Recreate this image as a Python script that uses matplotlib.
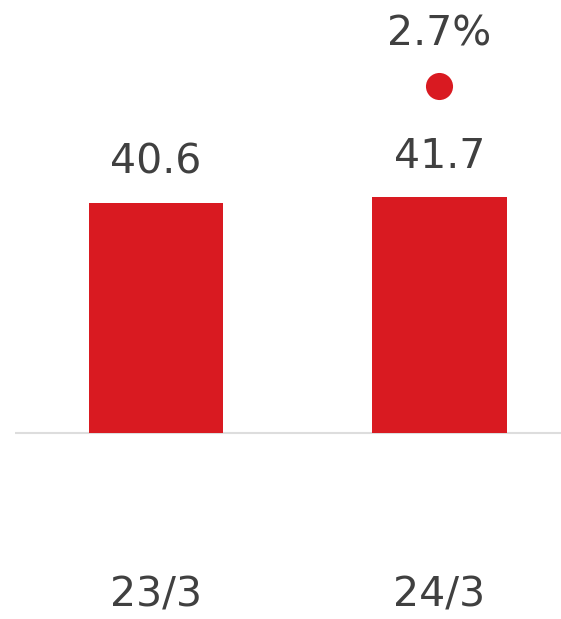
import matplotlib.pyplot as plt

# Data
periods = ["23/3", "24/3"]
values = [40.6, 41.7]
growth_pct = 2.7

bar_red = "#D91A21"
text_gray = "#404040"
px_per_unit = 5.665

fig = plt.figure(figsize=(5.61, 6.19), dpi=100)
ax = fig.add_axes([0, 0, 1, 1])

x = range(len(periods))
ax.bar(x, values, width=0.473, color=bar_red, zorder=2)

# Baseline
ax.plot([-0.497, 1.4286], [0, 0], color="#DDDDDD", linewidth=1.5, zorder=1,
        solid_capstyle="butt")

# Value labels above bars
for i, v in zip(x, values):
    ax.annotate(f"{v:.1f}", (i, v), xytext=(0, 21), textcoords="offset points",
                ha="center", va="baseline", fontsize=29.5, color=text_gray)

# Growth marker and label above the last bar
last = len(values) - 1
ax.plot([last], [values[last] + 111 / px_per_unit], marker="o", markersize=19.5,
        color=bar_red, markeredgewidth=0)
ax.annotate(f"{growth_pct:.1f}%", (last, values[last]), xytext=(0, 109),
            textcoords="offset points", ha="center", va="baseline",
            fontsize=29.5, color=text_gray)

# Category labels
for i, p in zip(x, periods):
    ax.text(i, -(607 - 433) / px_per_unit, p, ha="center", va="baseline",
            fontsize=29.5, color=text_gray)

ax.set_xlim(-0.550, 1.4286)
ax.set_ylim(-(619 - 433) / px_per_unit, 433 / px_per_unit)
ax.axis("off")

plt.savefig("out.png", dpi=100)
